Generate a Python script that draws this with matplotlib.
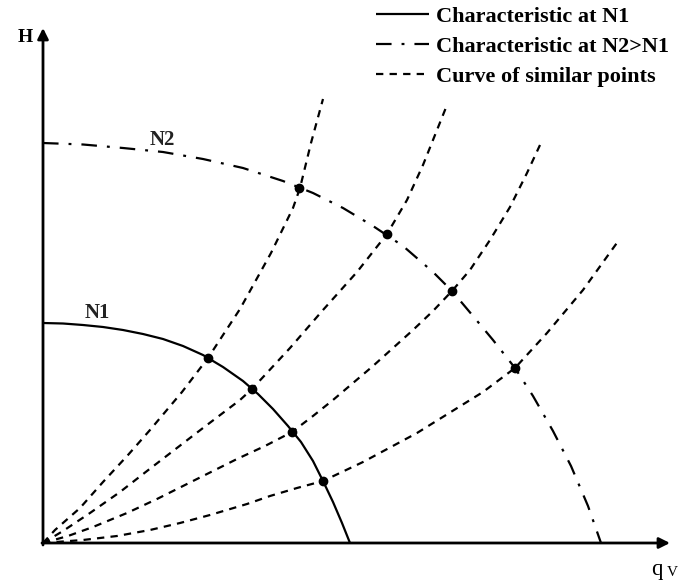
import numpy as np
import matplotlib
matplotlib.use("Agg")
from matplotlib import pyplot as plt

# values (flow qv, head H in arbitrary units)
n1_q = [0, 20, 40, 60, 80, 100, 120, 140, 160, 180, 200, 215, 230, 245, 258, 270, 280, 290, 299, 307]
n1_h = [220, 219.5, 218, 216, 213, 209, 204, 197, 188, 176, 162, 149, 134, 117, 101, 82, 62, 41, 20, 0]

n2_q = [0, 40, 80, 120, 160, 200, 240, 270, 300, 330, 360, 390, 409, 430, 450, 472, 490, 510, 528, 545, 558]
n2_h = [400, 398.5, 395, 391, 384, 375, 362, 350, 335, 317, 297, 271, 252, 227, 203, 175, 147, 112, 77, 37, 0]

# curves of similar points
sim1_q = [0, 12, 37, 60, 85, 107, 139, 165, 197, 228, 250, 257, 268, 280]
sim1_h = [0, 13, 35, 61, 88, 113, 151, 185, 234, 290, 335, 355, 400, 444]
sim2_q = [0, 20, 47, 77, 104, 130, 160, 197, 209, 247, 280, 314, 344, 364, 380, 404]
sim2_h = [0, 12, 30, 51, 72, 92, 115, 143, 154, 195, 233, 271, 309, 343, 378, 438]
sim3_q = [0, 25, 50, 84, 114, 140, 170, 194, 222, 249, 270, 290, 310, 330, 350, 370, 390, 409, 427, 447, 467, 484, 497]
sim3_h = [0, 7, 16, 30, 44, 57, 72, 84, 97, 111, 127, 143, 160, 177, 195, 213, 232, 252, 273, 303, 336, 370, 398]
sim4_q = [0, 40, 74, 107, 137, 167, 204, 227, 254, 280, 320, 374, 440, 472, 504, 540, 576]
sim4_h = [0, 3, 7, 13, 20, 28, 39, 47, 55, 62, 81, 110, 151, 175, 210, 253, 303]

# operating points
pts_n1_q = [165, 209, 249, 280]
pts_n1_h = [185, 154, 111, 62]
pts_n2_q = [256, 344, 409, 472]
pts_n2_h = [355, 309, 252, 175]

labels = ["Characteristic at N1", "Characteristic at N2>N1", "Curve of similar points"]

plt.rcParams['font.family'] = ['Liberation Serif', 'DejaVu Serif']

fig = plt.figure(figsize=(6.84, 5.81), dpi=100)
ax = fig.add_axes([0, 0, 1, 1])
ax.set_xlim(-43, 641)
ax.set_ylim(-38, 543)
ax.axis('off')

l1, = ax.plot(n1_q, n1_h, color='k', lw=1.6, solid_capstyle='butt', solid_joinstyle='round')
l2, = ax.plot(n2_q, n2_h, color='k', lw=1.6, linestyle=(0, (7, 4.5, 1.3, 4.5)))
l3 = None
for q, h in [(sim1_q, sim1_h), (sim2_q, sim2_h), (sim3_q, sim3_h), (sim4_q, sim4_h)]:
    l3, = ax.plot(q, h, color='k', lw=1.6, linestyle=(0, (3.3, 2.8)))

ax.plot(pts_n1_q, pts_n1_h, 'o', color='k', ms=6)
ax.plot(pts_n2_q, pts_n2_h, 'o', color='k', ms=6)

# axes with arrows
arr = dict(arrowstyle='-|>', lw=2, color='k', mutation_scale=16, shrinkA=0, shrinkB=0)
ax.annotate('', xy=(627, 0), xytext=(-1, 0), arrowprops=arr)
ax.annotate('', xy=(0, 515), xytext=(0, -2), arrowprops=arr)

ax.text(-18, 506, 'H', fontsize=14, fontweight='bold', ha='center', va='center')
ax.text(614, -26, 'q', fontsize=16.5, ha='center', va='center')
ax.text(629, -30, 'V', fontsize=11, ha='center', va='center')
ax.text(54, 230, 'N1', fontsize=15, fontweight='bold', ha='center', va='center', color='#222222')
ax.text(119, 403, 'N2', fontsize=15, fontweight='bold', ha='center', va='center', color='#222222')

leg = ax.legend([l1, l2, l3], labels, loc='upper left',
                bbox_to_anchor=(376 / 684, 1 - 6 / 581), frameon=False,
                borderpad=0, borderaxespad=0, handlelength=2.4, handletextpad=0.3,
                labelspacing=0.44, prop=dict(size=16, weight='bold'))

fig.savefig('out.png', dpi=100)
